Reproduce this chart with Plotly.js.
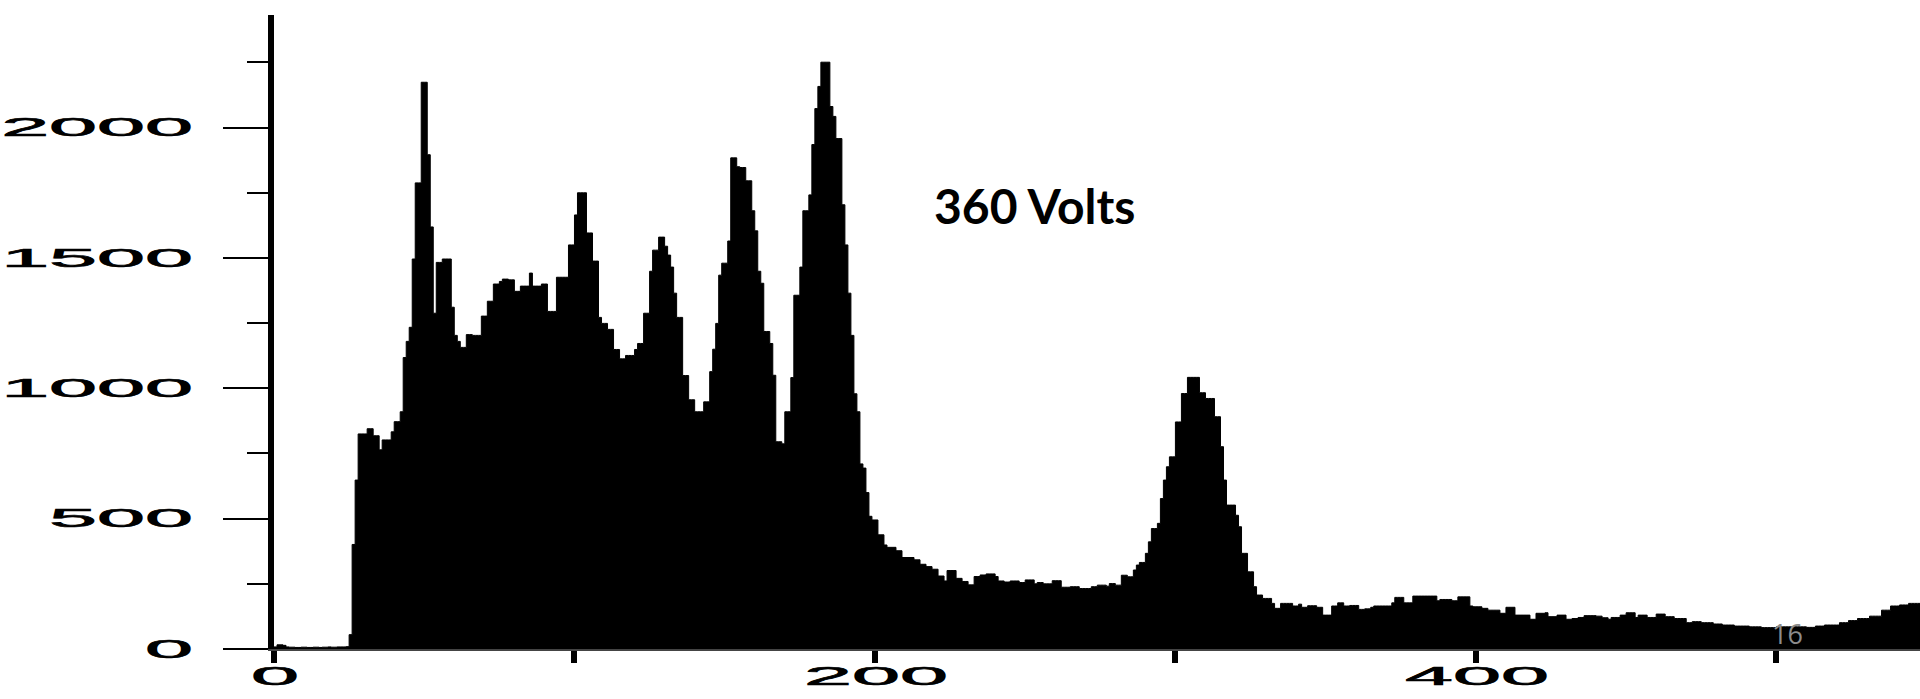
<!DOCTYPE html>
<html>
<head>
<meta charset="utf-8">
<script src="https://cdn.plot.ly/plotly-3.0.1.min.js"></script>
<style>
html,body{margin:0;padding:0;background:#fff;}
#chart{width:1920px;height:699px;}
</style>
</head>
<body>
<div id="chart"></div>
<script>
// Pulse-height spectrum, counts per channel
var counts = [
8,16,16,14,8,7,7,6,6,7,
7,6,6,7,7,6,7,7,8,7,
7,8,8,8,9,55,401,648,825,825,
825,845,845,818,818,764,802,802,802,833,
872,872,910,1118,1180,1234,1496,1788,1788,2174,
2174,1896,1619,1288,1483,1483,1496,1496,1496,1311,
1203,1180,1157,1157,1206,1206,1203,1203,1203,1277,
1277,1334,1334,1400,1400,1410,1419,1419,1416,1416,
1372,1372,1392,1392,1392,1442,1392,1392,1392,1400,
1400,1295,1295,1295,1426,1426,1426,1426,1550,1550,
1665,1750,1750,1750,1596,1596,1488,1488,1272,1249,
1249,1226,1226,1149,1149,1113,1113,1126,1126,1126,
1149,1172,1172,1288,1288,1449,1530,1530,1580,1580,
1545,1511,1465,1365,1272,1272,1049,1049,956,956,
910,910,910,948,948,1064,1150,1249,1434,1480,
1480,1565,1884,1884,1850,1847,1847,1796,1796,1681,
1604,1449,1403,1218,1218,1172,1050,795,795,787,
910,910,1041,1357,1357,1465,1681,1681,1742,1935,
2073,2158,2251,2251,2251,2081,2043,1958,1958,1704,
1550,1365,1203,979,910,710,694,600,509,495,
495,438,438,399,390,390,390,377,377,351,
351,351,351,342,342,325,325,316,316,306,
306,280,280,261,301,301,301,271,271,259,
259,246,246,278,278,284,284,288,288,288,
278,261,261,257,257,261,261,261,255,255,
265,265,265,250,255,255,250,250,250,262,
262,262,237,237,237,239,239,239,232,232,
232,232,239,239,245,245,245,241,251,251,
245,245,283,283,277,277,303,322,332,332,
367,411,462,462,482,577,648,699,737,737,
871,871,980,980,1042,1042,1042,1042,983,983,
961,961,961,891,891,776,648,552,552,552,
513,469,367,367,296,296,239,207,207,194,
194,194,175,156,156,175,175,175,175,165,
165,172,160,160,166,166,166,160,160,130,
130,130,165,165,177,177,165,165,167,167,
167,152,152,154,154,160,165,165,165,165,
165,165,177,198,198,198,177,177,177,203,
203,203,203,203,203,203,203,185,190,190,
190,190,185,185,200,200,200,200,165,162,
162,162,156,156,149,149,149,149,137,137,
160,160,160,130,130,130,130,130,114,114,
137,137,137,139,124,124,124,130,130,130,
114,114,117,117,121,121,128,128,128,128,
126,126,120,120,114,121,121,121,130,130,
139,139,139,121,130,130,130,121,121,121,
134,134,134,124,124,124,117,117,117,117,
101,101,105,105,105,101,101,101,101,96,
96,96,92,92,92,92,88,88,88,88,
88,85,85,85,85,82,82,82,82,82,
85,85,85,85,85,85,85,85,85,85,
83,83,83,88,88,88,92,92,92,92,
92,101,101,101,109,109,109,117,117,117,
117,126,126,126,126,149,149,149,165,165,
165,169,169,169,175,175,175,175,178,180
];
// channel numbers (left edge of each bin)
var channels = counts.map(function (_, i) { return i; });

var xTickVals = [0, 100, 200, 300, 400, 500];
var xTickText = ['0', '', '200', '', '400', ''];
var yTickVals = [0, 500, 1000, 1500, 2000];
var yTickText = ['0', '500', '1000', '1500', '2000'];
var yMinorVals = [250, 750, 1250, 1750, 2250];
var labelText = '360 Volts';
var pageNumber = '16';

// step outline needs a closing point at the end of the last bin
var xs = channels.concat([channels.length]);
var ys = counts.concat([counts[counts.length - 1]]);

var trace = {
  type: 'scatter',
  mode: 'lines',
  x: xs,
  y: ys,
  line: { shape: 'hv', color: '#000', width: 1 },
  fill: 'tozeroy',
  fillcolor: '#000',
  hoverinfo: 'skip'
};

var tickFont = { family: 'Liberation Sans, Arial, sans-serif', size: 25, color: '#000' };

var layout = {
  width: 1920,
  height: 699,
  margin: { l: 274, r: 0, t: 15, b: 50, pad: 0 },
  paper_bgcolor: '#fff',
  plot_bgcolor: '#fff',
  showlegend: false,
  xaxis: {
    range: [0, 547.8],
    showline: true, linecolor: '#444', linewidth: 2,
    ticks: 'outside', ticklen: 12, tickwidth: 6, tickcolor: '#000',
    tickmode: 'array', tickvals: xTickVals, ticktext: xTickText,
    tickfont: tickFont,
    showgrid: false, zeroline: false, fixedrange: true
  },
  yaxis: {
    range: [0, 2432],
    showline: true, linecolor: '#000', linewidth: 6,
    ticks: 'outside', ticklen: 45, tickwidth: 2, tickcolor: '#000',
    tickmode: 'array', tickvals: yTickVals, ticktext: yTickText,
    ticklabelstandoff: 30,
    minor: { tickmode: 'array', tickvals: yMinorVals, ticks: 'outside', ticklen: 21, tickwidth: 2, tickcolor: '#000', showgrid: false },
    tickfont: tickFont,
    showgrid: false, zeroline: false, fixedrange: true
  },
  annotations: [
    {
      text: labelText, xref: 'paper', yref: 'paper',
      x: 0.4, y: 0.699, xanchor: 'left', yanchor: 'middle', showarrow: false,
      font: { family: 'Lato, Open Sans, sans-serif', size: 48, color: '#000', weight: 700 }
    },
    {
      text: pageNumber, xref: 'paper', yref: 'paper',
      x: 0.9198, y: 0.0237, xanchor: 'center', yanchor: 'middle', showarrow: false,
      font: { family: 'Open Sans, sans-serif', size: 27, color: '#8c8c8c' }
    }
  ]
};

var gd = document.getElementById('chart');
Plotly.newPlot(gd, [trace], layout, { staticPlot: true, displayModeBar: false }).then(function () {
  // the original tick labels are strongly stretched horizontally
  function stretch(sel, s, dx, dy) {
    gd.querySelectorAll(sel).forEach(function (t) {
      var x = parseFloat(t.getAttribute('x')) || 0;
      var tr = t.getAttribute('transform') || '';
      t.setAttribute('transform', tr + ' translate(' + (x + dx) + ',' + dy + ') scale(' + s + ',1) translate(' + (-x) + ',0)');
      t.style.stroke = '#000';
      t.style.strokeWidth = '0.6px';
    });
  }
  stretch('.ytick text', 3.45, 5, 0);
  stretch('.xtick text', 3.45, 1, -8);
});
</script>
</body>
</html>
